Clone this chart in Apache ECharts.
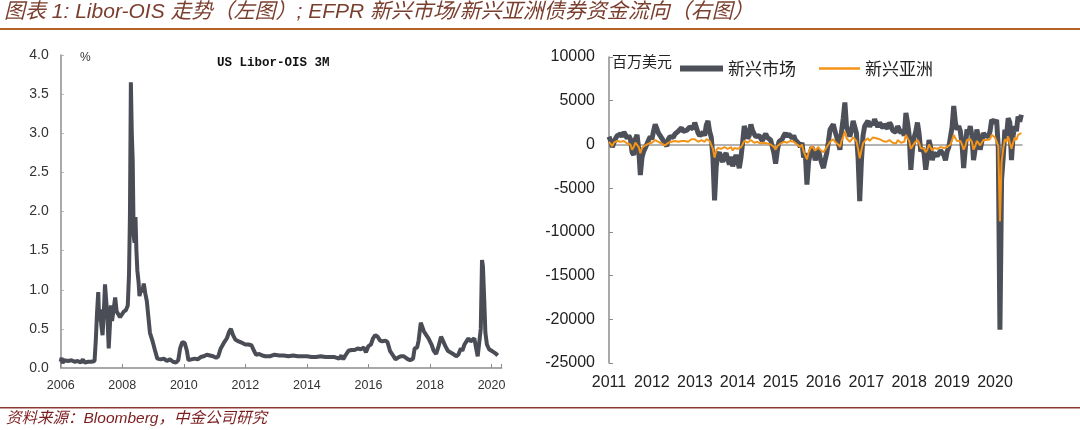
<!DOCTYPE html>
<html>
<head>
<meta charset="utf-8">
<script src="https://cdn.jsdelivr.net/npm/echarts@6/dist/echarts.min.js"></script>
<style>
html,body{margin:0;padding:0;background:#fff;}
#c{width:1080px;height:430px;}
</style>
</head>
<body>
<div id="c"></div>
<script>
// ---- Left chart: US Libor-OIS 3M (%) ----
var liborYears = [2006.00,2006.03,2006.06,2006.10,2006.15,2006.25,2006.35,2006.45,2006.55,2006.65,2006.72,2006.78,2006.90,2007.00,2007.10,2007.14,2007.18,2007.22,2007.25,2007.28,2007.32,2007.36,2007.40,2007.44,2007.48,2007.52,2007.56,2007.60,2007.63,2007.67,2007.72,2007.77,2007.82,2007.87,2007.93,2007.98,2008.05,2008.12,2008.18,2008.22,2008.25,2008.28,2008.31,2008.34,2008.37,2008.40,2008.43,2008.46,2008.49,2008.53,2008.56,2008.60,2008.65,2008.70,2008.75,2008.80,2008.85,2008.90,2008.98,2009.06,2009.14,2009.25,2009.35,2009.45,2009.55,2009.65,2009.75,2009.82,2009.88,2009.95,2010.03,2010.10,2010.15,2010.25,2010.35,2010.45,2010.55,2010.65,2010.75,2010.85,2010.95,2011.05,2011.12,2011.20,2011.30,2011.40,2011.48,2011.53,2011.60,2011.68,2011.78,2011.90,2012.00,2012.10,2012.20,2012.28,2012.35,2012.45,2012.55,2012.65,2012.80,2012.95,2013.10,2013.25,2013.40,2013.55,2013.70,2013.85,2014.00,2014.15,2014.30,2014.45,2014.60,2014.75,2014.90,2015.05,2015.12,2015.18,2015.25,2015.35,2015.45,2015.55,2015.65,2015.75,2015.85,2015.92,2016.00,2016.08,2016.15,2016.22,2016.30,2016.38,2016.45,2016.55,2016.62,2016.70,2016.80,2016.88,2016.95,2017.05,2017.15,2017.25,2017.35,2017.45,2017.50,2017.58,2017.63,2017.70,2017.75,2017.80,2017.88,2017.95,2018.05,2018.12,2018.20,2018.28,2018.36,2018.42,2018.50,2018.58,2018.66,2018.75,2018.85,2018.92,2019.00,2019.05,2019.12,2019.20,2019.25,2019.32,2019.38,2019.44,2019.50,2019.55,2019.60,2019.65,2019.69,2019.72,2019.76,2019.80,2019.85,2019.92,2020.00,2020.08,2020.15,2020.20];
var liborValues = [0.08,0.13,0.06,0.10,0.08,0.09,0.10,0.08,0.09,0.07,0.11,0.07,0.08,0.08,0.09,0.35,0.70,0.97,0.60,0.75,0.55,0.42,0.70,1.07,0.85,0.65,0.25,0.55,0.80,0.60,0.75,0.90,0.72,0.70,0.65,0.63,0.72,0.74,0.80,1.20,1.95,3.65,3.00,2.65,1.70,1.60,1.93,1.50,1.25,1.10,0.92,1.00,0.97,1.08,0.95,0.85,0.65,0.45,0.35,0.23,0.12,0.11,0.12,0.09,0.11,0.08,0.07,0.10,0.25,0.33,0.32,0.22,0.10,0.11,0.12,0.11,0.14,0.15,0.17,0.16,0.15,0.13,0.15,0.25,0.32,0.38,0.47,0.50,0.42,0.36,0.34,0.32,0.30,0.30,0.29,0.22,0.17,0.18,0.16,0.15,0.15,0.17,0.16,0.16,0.15,0.16,0.15,0.15,0.15,0.14,0.14,0.15,0.14,0.14,0.14,0.12,0.16,0.11,0.16,0.22,0.23,0.23,0.25,0.24,0.26,0.20,0.28,0.30,0.38,0.42,0.40,0.35,0.34,0.35,0.33,0.22,0.16,0.11,0.13,0.15,0.15,0.12,0.10,0.12,0.25,0.26,0.35,0.58,0.58,0.47,0.42,0.38,0.30,0.22,0.18,0.28,0.40,0.38,0.28,0.22,0.20,0.18,0.15,0.17,0.25,0.22,0.30,0.35,0.38,0.34,0.35,0.38,0.25,0.15,0.14,0.50,1.38,1.30,0.90,0.45,0.30,0.24,0.22,0.20,0.18,0.16];
var liborTicks = [2006,2008,2010,2012,2014,2016,2018,2020];

// ---- Right chart: EPFR bond fund flows (USD mn), bi-weekly samples from 2011 ----
var flowStartYear = 2011;
var flowStepsPerYear = 26;
var emFlows = [
 900,400,-300,200,700,1000,800,1200,900,1400,1100,700,1000,600,-900,-1200,600,1100,-500,-3500,-1500,-800,-400,-200,500,900,
 600,1500,2300,1800,1300,1000,900,400,200,-200,600,900,1100,800,1200,1000,1500,1700,1900,1500,1300,1600,1400,2000,2100,1800,
 2500,1900,1300,1000,1200,1400,1000,2200,2700,1500,800,-1500,-6400,-2500,-1200,-900,-1600,-2000,-1300,-1000,-1700,-2300,-1400,-2500,-1800,-1200,
 -2000,-2700,-1500,200,2100,1500,700,1000,2300,1600,1200,900,1100,1000,700,400,900,1200,800,1000,500,300,-1000,-2200,-800,300,
 400,600,1000,1300,900,1200,1400,700,1000,500,300,100,-300,200,-1500,-1000,-4600,-2000,-1000,-300,-800,-1800,-1200,-600,-1500,-2200,
 -2700,-1800,-1000,300,1700,2000,2300,1500,900,200,-600,1500,3000,4800,2000,1500,900,1600,2700,2000,1300,-1500,-6500,-2000,1000,2100,
 2300,2700,2000,2500,2200,2900,2400,2000,2500,2700,1900,2300,2100,1800,2500,2200,1600,1700,1400,2100,1900,1300,1600,1000,3600,2500,
 1000,-2900,-500,800,1500,2500,1200,-800,-400,-1000,-2900,-1500,500,-300,-1800,-1000,-800,-1300,-1500,-700,-600,-1200,-1800,-800,-300,-200,
 2000,4400,2500,1700,2100,1500,100,-2700,-500,1700,1200,2100,1000,-1800,-500,1700,800,-600,300,1300,1000,1200,900,1500,2800,3000,
 2500,2800,-400,-21200,-4000,-1500,1700,1000,3000,2500,-1800,1000,2100,1500,3200,2600,3400
];
var asiaFlows = [
 300,100,-200,200,300,400,200,300,200,400,300,100,200,0,-600,-300,200,300,-300,-1000,-400,-300,-100,0,100,300,
 200,400,500,300,300,200,100,0,-100,0,200,300,300,200,400,300,300,500,400,300,400,500,300,500,600,400,
 600,400,300,300,500,400,300,600,700,400,200,-500,-1500,-700,-400,-300,-500,-600,-300,-400,-500,-600,-300,-700,-400,-300,
 -500,-600,-300,0,400,300,200,100,500,300,200,100,300,200,100,0,200,300,100,200,0,-100,-300,-600,-200,0,
 100,200,300,400,200,300,400,200,300,100,0,-100,-300,0,-800,-600,-1700,-900,-500,-200,-400,-700,-500,-300,-600,-800,
 -900,-600,-400,0,300,500,600,300,200,0,-300,400,900,1500,700,500,300,500,800,600,400,-500,-1600,-700,100,400,
 500,700,400,600,800,1000,700,500,600,700,400,500,300,200,500,400,200,300,100,500,400,200,400,300,1100,700,
 400,-500,-200,100,300,500,200,-400,-300,-500,-900,-600,0,-200,-700,-400,-300,-500,-600,-300,-200,-400,-600,-300,-100,0,
 500,1100,700,400,600,400,0,-600,-200,500,400,600,300,-600,-200,400,300,-100,100,500,400,500,300,600,1100,1300,
 800,900,-200,-8800,-2000,-500,600,300,900,700,-500,200,800,500,1100,900,1300
];
var flowTicks = [2011,2012,2013,2014,2015,2016,2017,2018,2019,2020];
var seriesNames = ['新兴市场','新兴亚洲'];

function pairs(xs, ys){ return ys.map(function(v,i){ return [xs[i], v]; }); }
function stepPairs(start, per, ys){ return ys.map(function(v,i){ return [start + i/per, v]; }); }

var FONT = 'Liberation Sans, Arial, sans-serif';
var CJK = 'Noto Sans CJK SC, sans-serif';

var chart = echarts.init(document.getElementById('c'), null, {renderer:'canvas'});
chart.setOption({
  animation:false,
  backgroundColor:'#ffffff',
  grid:[
    {left:60.7, top:55, width:441, height:313},
    {left:609, top:57, width:413, height:306}
  ],
  xAxis:[
    {gridIndex:0, type:'value', min:2006, max:2020.33, interval:2,
     axisLine:{show:true, onZero:false, lineStyle:{color:'#8c8c8c', width:1.5}},
     axisTick:{show:true, inside:true, length:4, lineStyle:{color:'#8c8c8c'}},
     splitLine:{show:false},
     axisLabel:{margin:11, fontSize:12.5, color:'#333', fontFamily:FONT,
       formatter:function(v){ return liborTicks.indexOf(v) >= 0 ? String(v) : ''; }}},
    {gridIndex:1, type:'value', min:2011, max:2020.63, interval:1, position:'bottom',
     axisLine:{show:false, onZero:false}, axisTick:{show:false}, splitLine:{show:false},
     axisLabel:{margin:12, fontSize:16, color:'#222', fontFamily:FONT,
       formatter:function(v){ return flowTicks.indexOf(v) >= 0 ? String(v) : ''; }}},
    {gridIndex:1, type:'value', min:2011, max:2020.63, position:'bottom',
     axisLine:{show:true, onZero:true, lineStyle:{color:'#9a9a9a', width:1.5}},
     axisTick:{show:false}, axisLabel:{show:false}, splitLine:{show:false}}
  ],
  yAxis:[
    {gridIndex:0, type:'value', min:0, max:4, interval:0.5,
     axisLine:{show:true, lineStyle:{color:'#8c8c8c', width:1.5}},
     axisTick:{show:true, inside:true, length:3, lineStyle:{color:'#aaa'}},
     splitLine:{show:false},
     axisLabel:{margin:12, fontSize:14, color:'#333', fontFamily:FONT,
       formatter:function(v){ return v.toFixed(1); }}},
    {gridIndex:1, type:'value', min:-25000, max:10000, interval:5000,
     axisLine:{show:true, lineStyle:{color:'#8c8c8c', width:1.5}},
     axisTick:{show:true, inside:true, length:4, lineStyle:{color:'#8c8c8c'}},
     splitLine:{show:false},
     axisLabel:{margin:14, fontSize:16, color:'#222', fontFamily:FONT,
       formatter:function(v){ return String(v); }}}
  ],
  legend:[
    {data:[seriesNames[0]], left:680, top:60, padding:0, icon:'rect', itemWidth:43, itemHeight:6,
     textStyle:{fontSize:17, color:'#222', fontFamily:CJK}},
    {data:[seriesNames[1]], left:819, top:60, padding:0, icon:'rect', itemWidth:41, itemHeight:2.5,
     textStyle:{fontSize:17, color:'#222', fontFamily:CJK}}
  ],
  series:[
    {type:'line', name:'US Libor-OIS 3M', xAxisIndex:0, yAxisIndex:0, showSymbol:false,
     data:pairs(liborYears, liborValues), lineStyle:{color:'#4a4d55', width:4}, itemStyle:{color:'#4a4d55'}},
    {type:'line', name:seriesNames[0], xAxisIndex:1, yAxisIndex:1, showSymbol:false,
     data:stepPairs(flowStartYear, flowStepsPerYear, emFlows), lineStyle:{color:'#4d5058', width:5}, itemStyle:{color:'#4d5058'}},
    {type:'line', name:seriesNames[1], xAxisIndex:1, yAxisIndex:1, showSymbol:false,
     data:stepPairs(flowStartYear, flowStepsPerYear, asiaFlows), lineStyle:{color:'#f39419', width:2}, itemStyle:{color:'#f39419'}}
  ],
  graphic:[
    {type:'text', left:4, top:2, style:{text:'图表 1: Libor-OIS 走势（左图）; EFPR 新兴市场/新兴亚洲债券资金流向（右图）',
      font:'italic 21px Liberation Sans, Noto Sans CJK SC, sans-serif', fill:'#7a3e2e'}},
    {type:'rect', shape:{x:0, y:28, width:1080, height:2}, style:{fill:'#b5622a'}},
    {type:'rect', shape:{x:0, y:407, width:1080, height:1.5}, style:{fill:'#8b3a32'}},
    {type:'text', left:6, top:411, style:{text:'资料来源：Bloomberg，中金公司研究',
      font:'italic 15.5px Liberation Sans, Noto Sans CJK SC, sans-serif', fill:'#7b1e1e'}},
    {type:'text', left:80, top:52, style:{text:'%', font:'12px Liberation Sans, sans-serif', fill:'#333'}},
    {type:'text', left:217, top:56, style:{text:'US Libor-OIS 3M', font:'bold 12.5px Liberation Mono, monospace', fill:'#111'}},
    {type:'text', left:612, top:54, style:{text:'百万美元', font:'15px Noto Sans CJK SC, sans-serif', fill:'#222'}}
  ]
});
</script>
</body>
</html>
